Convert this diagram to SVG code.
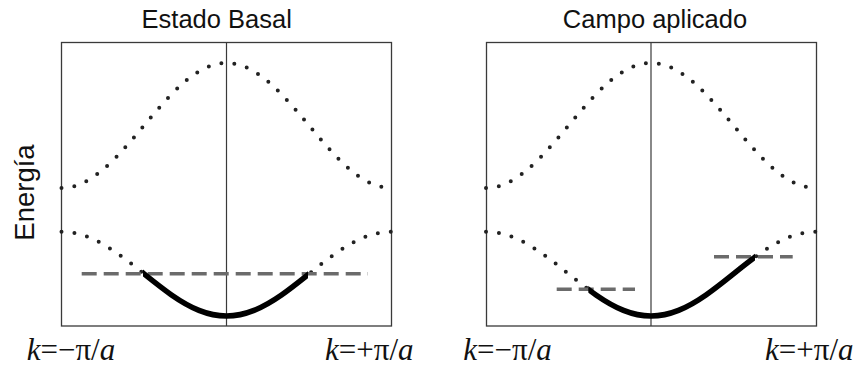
<svg xmlns="http://www.w3.org/2000/svg" xmlns:xlink="http://www.w3.org/1999/xlink" width="865" height="370" viewBox="0 0 865 370">
<style>
.frame{fill:none;stroke:#3a3a3a;stroke-width:1.3}
.axis{stroke:#3a3a3a;stroke-width:1.2}
.dots{fill:none;stroke:#222;stroke-width:4;stroke-linecap:round;stroke-dasharray:0 13}
.level{fill:none;stroke:#6b6b6b;stroke-width:3.6;stroke-dasharray:15 7}
.occ{fill:none;stroke:#000;stroke-width:5.5}
.title{font-family:"Liberation Sans",Arial,sans-serif;font-size:25.5px;fill:#111;text-anchor:middle}
.klab{font-family:"Liberation Serif","Times New Roman",serif;font-size:31px;fill:#111}
.it{font-style:italic}
</style>
<defs>
<path id="lower" d="M-165,231.70 C-155.83,231.70 -146.67,233.67 -137.5,237.35 C-128.33,241.03 -119.17,246.41 -110,252.78 C-100.83,259.15 -91.67,266.49 -82.5,273.85 C-73.33,281.21 -64.17,288.56 -55,294.93 C-45.83,301.30 -36.67,306.67 -27.5,310.35 C-18.33,314.03 -9.17,316 0,316 C9.17,316 18.33,314.03 27.5,310.35 C36.67,306.67 45.83,301.30 55,294.93 C64.17,288.56 73.33,281.21 82.5,273.85 C91.67,266.49 100.83,259.15 110,252.78 C119.17,246.41 128.33,241.03 137.5,237.35 C146.67,233.67 155.83,231.70 165,231.70"/>
<path id="upper" d="M-165,188 C-155.83,188 -146.67,185.08 -137.5,179.63 C-128.33,174.18 -119.17,166.20 -110,156.75 C-100.83,147.30 -91.67,136.41 -82.5,125.5 C-73.33,114.59 -64.17,103.70 -55,94.25 C-45.83,84.80 -36.67,76.82 -27.5,71.37 C-18.33,65.92 -9.17,63 0,63 C9.17,63 18.33,65.92 27.5,71.37 C36.67,76.82 45.83,84.80 55,94.25 C64.17,103.70 73.33,114.59 82.5,125.5 C91.67,136.41 100.83,147.30 110,156.75 C119.17,166.20 128.33,174.18 137.5,179.63 C146.67,185.08 155.83,188 165,188"/>
<clipPath id="clipL"><rect x="-83.5" y="200" width="165" height="130"/></clipPath>
<clipPath id="clipR"><rect x="-62.7" y="200" width="166.7" height="130"/></clipPath>
</defs>

<g id="panel-basal">
<text class="title" x="216.7" y="27.5">Estado Basal</text>
<rect class="frame" x="61.5" y="42.5" width="330" height="283.5"/>
<line class="axis" x1="226.5" y1="42.5" x2="226.5" y2="326"/>
<g transform="translate(226.5,0)">
<use xlink:href="#upper" class="dots"/>
<use xlink:href="#lower" class="dots"/>
<line class="level" x1="-144.8" y1="273.7" x2="141.5" y2="273.7"/>
<g clip-path="url(#clipL)"><use xlink:href="#lower" class="occ"/></g>
</g>
</g>

<g id="panel-campo">
<text class="title" x="655" y="27.5">Campo aplicado</text>
<rect class="frame" x="486.5" y="42.5" width="330" height="283.5"/>
<line class="axis" x1="651" y1="42.5" x2="651" y2="326"/>
<g transform="translate(651,0)">
<use xlink:href="#upper" class="dots"/>
<use xlink:href="#lower" class="dots"/>
<line class="level" x1="-94.3" y1="289.3" x2="-16" y2="289.3"/>
<line class="level" x1="63" y1="256.7" x2="141.7" y2="256.7"/>
<g clip-path="url(#clipR)"><use xlink:href="#lower" class="occ"/></g>
</g>
</g>

<g id="labels">
<text transform="translate(33.5,192.5) rotate(-90)" style="font-family:'Liberation Sans',Arial,sans-serif;font-size:27.5px;fill:#111;text-anchor:middle">Energía</text>
<text class="klab" x="26.7" y="360"><tspan class="it">k</tspan>=−π/<tspan class="it">a</tspan></text>
<text class="klab" x="325" y="360"><tspan class="it">k</tspan>=+π/<tspan class="it">a</tspan></text>
<text class="klab" x="463.3" y="360"><tspan class="it">k</tspan>=−π/<tspan class="it">a</tspan></text>
<text class="klab" x="765" y="360"><tspan class="it">k</tspan>=+π/<tspan class="it">a</tspan></text>
</g>
</svg>
